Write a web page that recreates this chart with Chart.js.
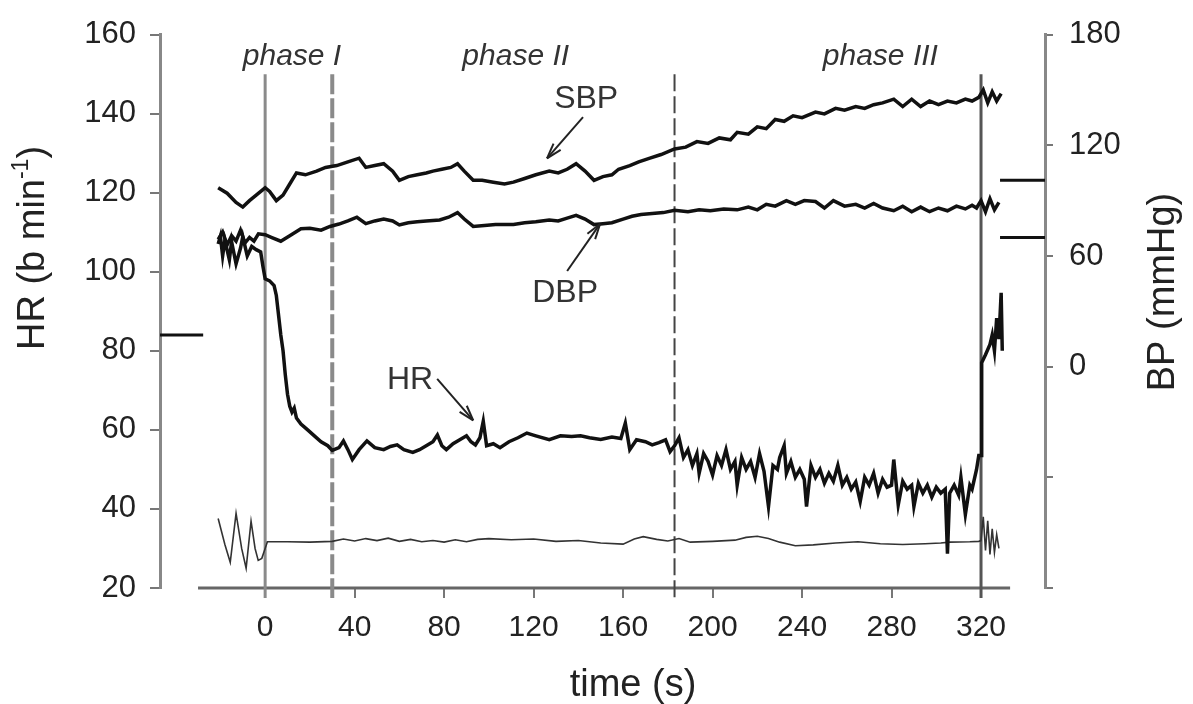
<!DOCTYPE html>
<html>
<head>
<meta charset="utf-8">
<script src="https://cdn.jsdelivr.net/npm/chart.js@4.4.1/dist/chart.umd.min.js"></script>
<style>
  html, body { margin: 0; padding: 0; background: #fff; }
  #wrap { width: 1193px; height: 704px; position: relative; }
</style>
</head>
<body>
<div id="wrap"><canvas id="chart"></canvas></div>
<script>
// time in s, HR in b/min, BP in mmHg
const sbpTime = [-21, -17, -13, -10, -7, -4, -1, 0, 2, 5, 8, 11, 14, 18, 23, 27, 32, 37, 42, 45, 49, 53, 57, 60, 64, 68, 72, 75, 79, 83, 86, 89, 93, 97, 102, 107, 111, 116, 121, 127, 131, 135, 139, 143, 147, 151, 155, 158, 163, 167, 172, 177, 183, 188, 193, 198, 203, 208, 211, 216, 220, 224, 228, 232, 236, 240, 246, 250, 255, 259, 264, 268, 272, 276, 281, 285, 289, 293, 297, 301, 305, 309, 313, 316, 319, 321, 323, 325, 327, 329];
const sbpValues = [97, 94, 89, 86.5, 90, 93, 96, 97, 95, 90, 93, 99, 105, 104, 106, 108, 109, 111, 113, 108, 109, 110, 106, 101, 103, 104, 105, 106, 107, 108, 110, 106, 101, 101, 100, 99, 100, 102, 104, 106, 105, 107, 110, 106, 101, 103, 104, 107, 109, 111, 113, 115, 118, 119, 122, 121, 124, 123, 127, 126, 130, 129, 134, 133, 136, 135, 138, 137, 140, 139, 141, 140, 142, 143, 145, 141, 145, 141, 144, 142, 144, 143, 145, 144, 146, 150, 143, 149, 144, 148];

const dbpTime = [-21, -19, -17, -15, -13, -11, -9, -7, -5, -3, 0, 3, 7, 11, 16, 20, 25, 29, 33, 37, 41, 45, 49, 53, 57, 60, 64, 68, 72, 78, 82, 86, 89, 93, 98, 103, 107, 111, 116, 121, 127, 131, 135, 139, 143, 147, 151, 155, 160, 164, 168, 173, 178, 183, 189, 194, 199, 205, 211, 216, 220, 224, 228, 233, 237, 241, 246, 250, 254, 259, 264, 268, 272, 276, 281, 285, 289, 293, 297, 301, 305, 309, 313, 316, 318, 320, 322, 324, 326, 328];
const dbpValues = [69, 73, 66, 71, 68, 74, 67, 70, 68, 72, 71.5, 70, 68, 71, 74.7, 75, 74, 76, 77.3, 79, 81, 77.5, 79, 80, 79, 76.8, 78, 78.5, 79, 79.5, 81, 83.5, 80, 76, 76.5, 77, 77, 77, 78, 78.5, 79.5, 79, 80.5, 82, 80, 77, 77.5, 78, 80, 81.5, 82.5, 83, 83.5, 84.8, 84, 85, 84.5, 85.5, 85, 86.5, 85, 88, 87, 90, 88, 90, 89.5, 86, 90, 87, 88, 86, 88.5, 86, 84.5, 87, 84, 86.5, 84, 86, 84.5, 87, 85.5, 87.5, 86, 90, 84, 91, 85, 89];

const hrTime = [-21, -20, -19, -18, -16, -15, -13, -11, -10, -8, -6, -4, -2, -1, 0, 2, 4, 5, 6, 7, 8, 9, 10, 11, 12, 13, 14, 16, 19, 22, 25, 28, 30, 33, 35, 37, 39, 42, 45.5, 49, 53, 56, 59, 62, 66, 69, 72, 75, 77, 79, 81, 84, 87, 90, 92, 94, 96, 97.5, 99, 102, 105, 109, 113, 117, 121, 127, 132, 137, 141, 145, 150, 155, 159, 161, 163, 166, 170, 173, 176, 179, 181, 183, 185, 187, 189, 191, 193, 194, 196, 198, 200, 202, 204, 206, 208, 210, 211, 213, 215, 217, 219, 221, 223, 225, 227, 229, 230, 232, 233, 235, 237, 239, 241, 242, 244, 246, 248, 250, 252, 254, 256, 258, 260, 262, 264, 266, 268, 270, 272, 274, 276, 278, 280, 281, 283, 285, 287, 289, 290, 292, 294, 296, 298, 300, 302, 304, 305, 306, 308, 310, 311, 313, 315, 316, 318, 319, 320, 320.3, 322, 324, 325, 326, 327, 328, 329, 329.5];
const hrValues = [107, 109, 104, 108, 103, 107.6, 102, 106, 108.9, 104, 106.4, 105.6, 105, 101.4, 98.2, 97.7, 96.5, 94, 89, 84, 80, 74, 69, 66, 64.5, 65.5, 63, 61.5, 60, 58.5, 57, 56, 54.8, 55.5, 57.2, 55, 52.5, 55, 57.2, 55.5, 55, 55.8, 56.2, 55, 54.3, 55, 56, 57, 58.7, 56, 55, 56.5, 57.5, 58.5, 57, 56.2, 58, 62.2, 56, 56.5, 55.5, 57, 58, 59.2, 58.5, 57.5, 58.5, 58.3, 58.5, 58, 57.6, 58.2, 57.8, 61.7, 55, 57.5, 57, 56.2, 56.8, 57.5, 54.5, 56, 58, 53, 55, 51, 54, 49, 54, 52, 48.6, 53.5, 51, 55, 50, 52, 46, 53, 50, 52, 48, 54, 49.5, 40.6, 51, 50, 53, 56, 49, 52, 48, 50, 47.5, 40.6, 51, 48, 50, 46.5, 49, 47, 51, 46, 48, 45, 46.8, 41.9, 48, 46, 49, 44, 47.5, 45.5, 46, 52.5, 41, 47, 45, 46, 40.6, 46.5, 44, 46, 43, 45.5, 44, 45, 28.7, 44, 46, 43.5, 48, 38.6, 46, 45, 50, 53.5, 53.5, 77, 79, 81.6, 84, 80, 88.3, 83, 94.7, 80];

// thin trace near the bottom
const lowTime = [-21, -18, -15.6, -13, -10.5, -8.5, -6.3, -4.5, -3.1, -1.5, 0, 1, 10, 20, 30, 35, 40, 45, 50, 55, 60, 65, 70, 75, 80, 85, 90, 95, 100, 110, 120, 130, 140, 150, 160, 165, 169, 175, 180, 185, 190, 200, 210, 215, 220, 225, 230, 237, 245, 255, 265, 275, 285, 295, 302, 306, 315, 319, 320, 321, 322, 323, 324, 325, 326, 327, 328];
const lowValues = [37.6, 31, 26.5, 38.9, 30, 25, 36.9, 30, 27, 27.5, 30, 31.7, 31.7, 31.6, 31.8, 32.4, 31.9, 32.5, 32, 32.6, 31.8, 32.3, 31.7, 32, 31.6, 32.2, 31.7, 32.3, 32.5, 32.2, 32.4, 31.8, 32, 31.4, 31.1, 32.4, 33, 32.3, 31.9, 32.5, 31.6, 31.8, 32.1, 32.8, 33.1, 32.5, 31.6, 30.7, 30.9, 31.4, 31.7, 31.2, 31, 31.2, 31.4, 31.6, 31.7, 31.8, 32, 38, 29.5, 37, 28.5, 35, 29, 33.5, 30];

// resting baselines
const hrBaseline = 84;
const sbpBaseline = 101;
const dbpBaseline = 70;

const phaseTimes = [0, 30, 183, 320];
const phaseNames = ['phase I', 'phase II', 'phase III'];
const phaseLabelTimes = [12, 112, 275];

const xTicks = [0, 40, 80, 120, 160, 200, 240, 280, 320];

const FONT = "'Liberation Sans', Arial, sans-serif";
const INK = '#222';

function toPoints(times, values) {
    return times.map((t, i) => ({ x: t, y: values[i] }));
}

function arrow(ctx, x1, y1, x2, y2) {
    const ang = Math.atan2(y2 - y1, x2 - x1);
    ctx.beginPath();
    ctx.moveTo(x1, y1);
    ctx.lineTo(x2, y2);
    ctx.stroke();
    for (const s of [-1, 1]) {
        ctx.beginPath();
        ctx.moveTo(x2, y2);
        ctx.lineTo(x2 - 16 * Math.cos(ang + s * 0.3), y2 - 16 * Math.sin(ang + s * 0.3));
        ctx.stroke();
    }
}

const decorPlugin = {
    id: 'decor',
    beforeDatasetsDraw(chart) {
        const ctx = chart.ctx;
        const x = chart.scales.x;
        const y = chart.scales.yHR;
        ctx.save();
        // x axis line (does not reach the left axis)
        ctx.strokeStyle = '#666';
        ctx.lineWidth = 3;
        ctx.beginPath();
        ctx.moveTo(x.getPixelForValue(-30), y.getPixelForValue(20));
        ctx.lineTo(x.getPixelForValue(333), y.getPixelForValue(20));
        ctx.stroke();
        // phase boundaries
        const styles = [
            { color: '#8a8a8a', width: 3, dash: [] },
            { color: '#8a8a8a', width: 4, dash: [20, 4] },
            { color: '#444', width: 2, dash: [17, 5] },
            { color: '#555', width: 3, dash: [] }
        ];
        phaseTimes.forEach((t, i) => {
            const st = styles[i];
            ctx.strokeStyle = st.color;
            ctx.lineWidth = st.width;
            ctx.setLineDash(st.dash);
            ctx.beginPath();
            ctx.moveTo(x.getPixelForValue(t), y.getPixelForValue(150));
            ctx.lineTo(x.getPixelForValue(t), y.getPixelForValue(17.5));
            ctx.stroke();
        });
        ctx.restore();
    },
    afterDatasetsDraw(chart) {
        const ctx = chart.ctx;
        const x = chart.scales.x;
        const y = chart.scales.yHR;
        const px = (t) => x.getPixelForValue(t);
        const py = (v) => y.getPixelForValue(v);
        ctx.save();
        ctx.fillStyle = '#333';
        ctx.textAlign = 'center';
        ctx.textBaseline = 'middle';

        ctx.font = 'italic 30px ' + FONT;
        phaseNames.forEach((name, i) => {
            ctx.fillText(name, px(phaseLabelTimes[i]), py(154.5));
        });

        ctx.font = '32px ' + FONT;
        ctx.fillText('SBP', px(143.5), py(143.6));
        ctx.fillText('DBP', px(134.1), py(94.7));
        ctx.fillText('HR', px(64.8), py(72.6));

        ctx.strokeStyle = '#222';
        ctx.lineWidth = 2;
        arrow(ctx, px(142.1), py(139.1), px(126), py(128.7));
        arrow(ctx, px(135), py(100.2), px(149.7), py(112.1));
        arrow(ctx, px(76.9), py(72.9), px(93), py(62.4));

        // axis titles
        ctx.fillStyle = INK;
        ctx.font = '38px ' + FONT;
        ctx.fillText('time (s)', 633, 686);

        ctx.save();
        ctx.translate(34, 248);
        ctx.rotate(-Math.PI / 2);
        ctx.textAlign = 'left';
        const mainFont = '38px ' + FONT;
        const supFont = '23px ' + FONT;
        ctx.font = mainFont;
        const w1 = ctx.measureText('HR (b min').width;
        const w3 = ctx.measureText(')').width;
        ctx.font = supFont;
        const w2 = ctx.measureText('-1').width;
        let cx = -(w1 + w2 + w3) / 2;
        ctx.font = mainFont;
        ctx.fillText('HR (b min', cx, 0);
        cx += w1;
        ctx.font = supFont;
        ctx.fillText('-1', cx, -12);
        cx += w2;
        ctx.font = mainFont;
        ctx.fillText(')', cx, 0);
        ctx.restore();

        ctx.save();
        ctx.translate(1164, 292);
        ctx.rotate(-Math.PI / 2);
        ctx.font = '38px ' + FONT;
        ctx.fillText('BP (mmHg)', 0, 0);
        ctx.restore();

        ctx.restore();
    }
};

const lineStyle = { showLine: true, pointRadius: 0, borderColor: '#111', borderWidth: 3.5, tension: 0 };

new Chart(document.getElementById('chart'), {
    type: 'scatter',
    data: {
        datasets: [
            { ...lineStyle, label: 'SBP', data: toPoints(sbpTime, sbpValues), yAxisID: 'yBP' },
            { ...lineStyle, label: 'DBP', data: toPoints(dbpTime, dbpValues), yAxisID: 'yBP' },
            { ...lineStyle, label: 'HR', data: toPoints(hrTime, hrValues), yAxisID: 'yHR' },
            { ...lineStyle, label: 'trace', data: toPoints(lowTime, lowValues), yAxisID: 'yHR', borderColor: '#333', borderWidth: 1.6 },
            { ...lineStyle, label: 'HR rest', data: [{ x: -47, y: hrBaseline }, { x: -27.7, y: hrBaseline }], yAxisID: 'yHR', borderWidth: 3 },
            { ...lineStyle, label: 'SBP rest', data: [{ x: 328.5, y: sbpBaseline }, { x: 348.6, y: sbpBaseline }], yAxisID: 'yBP', borderWidth: 3 },
            { ...lineStyle, label: 'DBP rest', data: [{ x: 328.5, y: dbpBaseline }, { x: 348.6, y: dbpBaseline }], yAxisID: 'yBP', borderWidth: 3 }
        ]
    },
    options: {
        responsive: true,
        maintainAspectRatio: false,
        animation: false,
        layout: { padding: { top: 24, left: 0, right: 0, bottom: 0 } },
        plugins: {
            legend: { display: false },
            tooltip: { enabled: false }
        },
        scales: {
            x: {
                type: 'linear',
                position: 'bottom',
                min: -47,
                max: 348.6,
                afterBuildTicks: (scale) => {
                    scale.ticks = xTicks.map((v) => ({ value: v }));
                },
                afterFit: (scale) => { scale.height = 116; },
                border: { display: false },
                grid: { drawOnChartArea: false, drawTicks: true, tickLength: 10, color: '#777', lineWidth: 2 },
                ticks: {
                    color: INK,
                    padding: 12,
                    maxRotation: 0,
                    autoSkip: false,
                    font: { family: FONT, size: 30 }
                }
            },
            yHR: {
                type: 'linear',
                position: 'left',
                min: 20,
                max: 160,
                afterFit: (scale) => { scale.width = 160; },
                border: { display: true, color: '#888', width: 3 },
                grid: { drawOnChartArea: false, drawTicks: true, tickLength: 10, color: '#777', lineWidth: 2 },
                ticks: { stepSize: 20, color: INK, padding: 14, font: { family: FONT, size: 31 } }
            },
            yBP: {
                type: 'linear',
                position: 'right',
                min: -120,
                max: 180,
                afterFit: (scale) => { scale.width = 148; },
                border: { display: true, color: '#888', width: 3 },
                grid: { drawOnChartArea: false, drawTicks: true, tickLength: 8, color: '#777', lineWidth: 2 },
                ticks: {
                    stepSize: 60,
                    color: INK,
                    padding: 16,
                    font: { family: FONT, size: 31 },
                    callback: (value) => (value >= 0 ? value : '')
                }
            }
        }
    },
    plugins: [decorPlugin]
});
</script>
</body>
</html>
